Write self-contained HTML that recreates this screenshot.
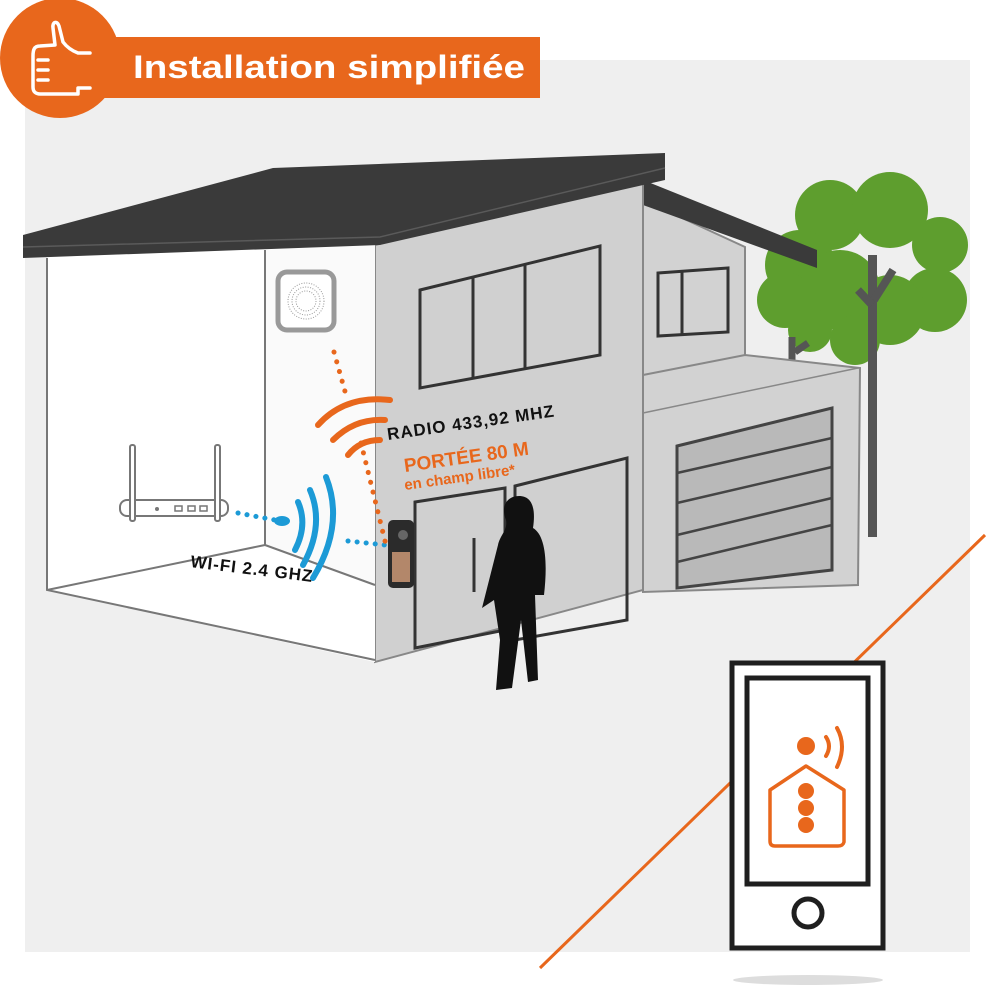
<!DOCTYPE html><html><head><meta charset="utf-8"><style>html,body{margin:0;padding:0;background:#fff}svg{display:block}</style></head><body>
<svg width="989" height="989" viewBox="0 0 989 989" xmlns="http://www.w3.org/2000/svg" font-family="Liberation Sans, sans-serif">
<rect x="25" y="60" width="945" height="892" fill="#efefef"/>
<!-- tree -->
<g fill="#5e9e2e">
<circle cx="830" cy="215" r="35"/><circle cx="890" cy="210" r="38"/><circle cx="940" cy="245" r="28"/><circle cx="935" cy="300" r="32"/><circle cx="890" cy="310" r="35"/><circle cx="800" cy="265" r="35"/><circle cx="785" cy="300" r="28"/><circle cx="840" cy="290" r="40"/><circle cx="855" cy="340" r="25"/><circle cx="810" cy="330" r="22"/>
</g>
<rect x="868" y="255" width="9" height="282" fill="#555"/>
<path d="M872 305 L858 290 M874 300 L893 270" stroke="#555" stroke-width="8"/>
<path d="M792 337 V360 M795 352 L808 343" stroke="#555" stroke-width="7"/>
<!-- right wing -->
<polygon points="643,200 745,247 745,380 643,400" fill="#d2d2d2" stroke="#888" stroke-width="2"/>
<polygon points="658,273 728,268 728,332 658,336" fill="none" stroke="#333" stroke-width="3"/>
<path d="M682 272 V335" stroke="#333" stroke-width="3"/>
<polygon points="643,375 745,355 860,368 858,585 643,592" fill="#d2d2d2" stroke="#888" stroke-width="2"/>
<path d="M643,413 L858,368" stroke="#888" stroke-width="1.5"/>
<polygon points="677,446 832,408 832,570 677,588" fill="#b9b9b9" stroke="#444" stroke-width="3"/>
<path d="M677,473 L832,438 M677,503 L832,467 M677,535 L832,498 M677,562 L832,525" stroke="#444" stroke-width="2.5"/>
<polygon points="643,180 817,250 817,268 643,205" fill="#3a3a3a"/>
<!-- main front wall -->
<polygon points="375,245 643,178 643,590 375,662" fill="#d0d0d0" stroke="#888" stroke-width="2"/>
<!-- interior -->
<polygon points="47,257 375,245 375,662 47,590" fill="#fff"/>
<polygon points="265,250 375,245 375,585 265,545" fill="#fafafa"/>
<path d="M47,258 V590 L375,660 M265,250 V545 L375,585 M265,545 L47,590" stroke="#777" stroke-width="2" fill="none"/>
<!-- windows -->
<g stroke="#333" stroke-width="3" fill="none">
<polygon points="420,290 600,246 600,355 420,388"/>
<path d="M473,278 V378 M525,265 V368"/>
<polygon points="415,502 505,488 505,630 415,648"/>
<polygon points="515,486 627,458 627,620 515,640"/>
</g>
<path d="M474,538 V592" stroke="#333" stroke-width="3"/>
<!-- roof -->
<polygon points="23,235 273,168 665,153 665,180 380,245 23,258" fill="#3a3a3a"/>
<path d="M23,247 L380,237 L665,168" stroke="#5a5a5a" stroke-width="1.5" fill="none"/>
<!-- chime -->
<rect x="278" y="272" width="56" height="58" rx="9" fill="#fff" stroke="#999" stroke-width="5"/>
<g fill="none" stroke="#999" stroke-dasharray="1 1.5"><circle cx="306" cy="301" r="18"/><circle cx="306" cy="301" r="14"/><circle cx="306" cy="301" r="10"/></g>
<!-- router -->
<g stroke="#777" stroke-width="2" fill="#fff">
<rect x="120" y="500" width="108" height="16" rx="7"/><rect x="130" y="445" width="5" height="76" rx="2"/><rect x="215" y="445" width="5" height="76" rx="2"/>
</g>
<circle cx="157" cy="509" r="2" fill="#777"/>
<g fill="none" stroke="#777" stroke-width="1.5"><rect x="175" y="506" width="7" height="5"/><rect x="188" y="506" width="7" height="5"/><rect x="200" y="506" width="7" height="5"/></g>
<!-- wifi dots -->
<g stroke="#1c9ad6" stroke-width="5" stroke-linecap="round" stroke-dasharray="0.1 9" fill="none">
<path d="M238,513 L275,520"/><path d="M348,541 L385,545"/>
</g>
<ellipse cx="282" cy="521" rx="8" ry="5" fill="#1c9ad6"/>
<g stroke="#1c9ad6" stroke-width="6" stroke-linecap="round" fill="none">
<path d="M298,502 Q308,525 295,550"/><path d="M310,490 Q325,525 303,565"/><path d="M326,477 Q345,525 313,578"/>
</g>
<!-- radio -->
<g stroke="#e8671c" stroke-width="5" stroke-linecap="round" stroke-dasharray="0.1 10" fill="none">
<path d="M334,352 L346,395"/><path d="M361,443 L386,545"/>
</g>
<g stroke="#e8671c" stroke-width="6" stroke-linecap="round" fill="none">
<path d="M318,425 Q345,395 390,400"/><path d="M333,440 Q355,418 385,420"/><path d="M348,455 Q360,440 380,440"/>
</g>
<!-- doorbell -->
<rect x="388" y="520" width="26" height="68" rx="5" fill="#2b2b2b"/>
<rect x="392" y="552" width="18" height="30" fill="#b3876a"/>
<circle cx="403" cy="535" r="5" fill="#666"/>
<!-- person -->
<path d="M519,496 C532,496 536,508 533,528 C545,535 548,560 544,595 L535,595 L538,680 L528,682 L521,620 L512,688 L496,690 L500,640 L494,600 L482,608 L498,545 C500,535 508,530 506,520 C500,505 508,496 519,496Z" fill="#111"/>
<!-- labels -->
<text x="388" y="440" font-size="17" font-weight="bold" fill="#111" transform="rotate(-8 388 440)" letter-spacing="1">RADIO 433,92 MHZ</text>
<text x="405" y="472" font-size="19" font-weight="bold" fill="#e8671c" transform="rotate(-8 405 472)">PORTÉE 80 M</text>
<text x="405" y="490" font-size="15" font-weight="bold" fill="#e8671c" transform="rotate(-8 405 490)">en champ libre*</text>
<text x="190" y="567" font-size="17" font-weight="bold" fill="#111" transform="rotate(7 190 567)" letter-spacing="1">WI-FI 2.4 GHZ</text>
<!-- orange line -->
<path d="M540,968 L985,535" stroke="#e8671c" stroke-width="3"/>
<!-- phone -->
<ellipse cx="808" cy="980" rx="75" ry="5" fill="#ddd"/>
<rect x="732" y="663" width="151" height="285" fill="#fff" stroke="#1f1f1f" stroke-width="5"/>
<rect x="747" y="678" width="121" height="206" fill="#fff" stroke="#1f1f1f" stroke-width="5"/>
<circle cx="808" cy="913" r="14" fill="none" stroke="#1f1f1f" stroke-width="5"/>
<circle cx="806" cy="746" r="9" fill="#e8671c"/>
<path d="M826,737 Q832,746 826,756 M837,728 Q847,746 837,767" stroke="#e8671c" stroke-width="4" fill="none" stroke-linecap="round"/>
<path d="M770,790 L806,766 L844,790 L844,842 Q843,846 838,846 L775,846 Q770,846 770,841Z" fill="none" stroke="#e8671c" stroke-width="3.5" stroke-linejoin="round"/>
<circle cx="806" cy="791" r="8" fill="#e8671c"/><circle cx="806" cy="808" r="8" fill="#e8671c"/><circle cx="806" cy="825" r="8" fill="#e8671c"/>
<!-- banner -->
<circle cx="60" cy="58" r="60" fill="#e8671c"/>
<rect x="40" y="37" width="500" height="61" fill="#e8671c"/>
<g stroke="#fff" stroke-width="3.5" fill="none" stroke-linecap="round" stroke-linejoin="round">
<path d="M90,53 L78,53 C70,50 66,46 63,42 L59,26 C57,20 52,22 53,28 L55,45 L40,46 C34,46 33,50 33,56 L33,87 C33,92 36,94 40,94 L78,94 L78,88 L90,88"/>
<path d="M38,60 H48 M38,70 H48 M38,80 H48"/>
</g>
<text x="133" y="78" font-size="32" font-weight="bold" fill="#fff" textLength="392" lengthAdjust="spacingAndGlyphs">Installation simplifiée</text>
</svg>
</body></html>
